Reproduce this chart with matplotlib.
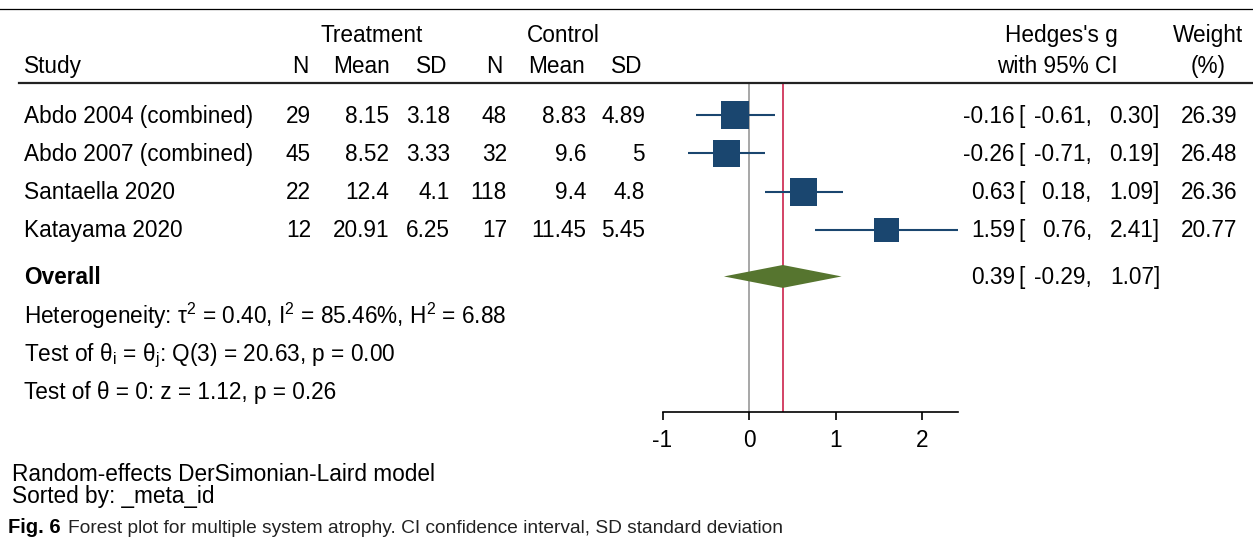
import matplotlib
matplotlib.use("Agg")
import matplotlib.pyplot as plt
import matplotlib.transforms as mtransforms
from matplotlib.lines import Line2D
from matplotlib.patches import Polygon

plt.rcParams["font.family"] = ["Liberation Sans", "DejaVu Sans"]
plt.rcParams["mathtext.fontset"] = "custom"
plt.rcParams["mathtext.rm"] = "Liberation Sans"

# study-level data
studies = ["Abdo 2004 (combined)", "Abdo 2007 (combined)", "Santaella 2020", "Katayama 2020"]
trt_n = ["29", "45", "22", "12"]
trt_mean = ["8.15", "8.52", "12.4", "20.91"]
trt_sd = ["3.18", "3.33", "4.1", "6.25"]
ctl_n = ["48", "32", "118", "17"]
ctl_mean = ["8.83", "9.6", "9.4", "11.45"]
ctl_sd = ["4.89", "5", "4.8", "5.45"]
effect = [-0.16, -0.26, 0.63, 1.59]
ci_lo = [-0.61, -0.71, 0.18, 0.76]
ci_hi = [0.30, 0.19, 1.09, 2.41]
weight = [26.39, 26.48, 26.36, 20.77]

# pooled estimate
overall_es = 0.39
overall_lo = -0.29
overall_hi = 1.07

stats_lines = [
    r"Heterogeneity: τ$^\mathregular{2}$ = 0.40, I$^\mathregular{2}$ = 85.46%, H$^\mathregular{2}$ = 6.88",
    r"Test of θ$_\mathregular{i}$ = θ$_\mathregular{j}$: Q(3) = 20.63, p = 0.00",
    "Test of θ = 0: z = 1.12, p = 0.26",
]
ticks = [-1, 0, 1, 2]

W, H = 1253, 543
FS = 16.3
BLUE = "#1a466f"
GREEN = "#56752f"
RED = "#c8103c"

fig = plt.figure(figsize=(W / 100, H / 100), dpi=100)
px = mtransforms.Affine2D().scale(1 / W, -1 / H).translate(0, 1) + fig.transFigure

# forest panel
ax = fig.add_axes([662.5 / W, 1 - 412 / H, 295 / W, 328 / H])
ax.set_xlim(-1, max(ci_hi))
ax.set_ylim(8.77, 0.18)
rows = list(range(1, len(studies) + 1))
overall_row = 5.22
stat_rows = [6.25, 7.25, 8.24]

ax.axvline(0, color="#a0a0a0", lw=1.3, zorder=1)
ax.axvline(overall_es, color=RED, lw=1.1, zorder=1)
ax.hlines(rows, ci_lo, ci_hi, color=BLUE, lw=1.5, zorder=2)
ax.scatter(effect, rows, s=[w * 15.2 for w in weight], marker="s",
           color=BLUE, linewidths=0, zorder=3)
half_h = 0.30
ax.add_patch(Polygon(
    [(overall_lo, overall_row), (overall_es, overall_row - half_h),
     (overall_hi, overall_row), (overall_es, overall_row + half_h)],
    closed=True, facecolor=GREEN, edgecolor="none", zorder=3))

for side in ["left", "right", "top"]:
    ax.spines[side].set_visible(False)
ax.spines["bottom"].set_linewidth(1.2)
ax.set_xticks(ticks)
ax.set_xticklabels([f"{t:d}" for t in ticks])
ax.tick_params(axis="x", direction="out", length=6, width=1.2, pad=6, labelsize=FS)
ax.tick_params(axis="y", left=False, labelleft=False)

# text columns: x in image pixels, y in row units of the forest panel
tr = mtransforms.blended_transform_factory(px, ax.transData)
BASE = 0.2


def put(x, row, s, ha="right", **kw):
    ax.text(x, row + BASE, s, transform=tr, ha=ha, va="baseline",
            fontsize=kw.pop("fontsize", FS), **kw)


# header
put(372, -1.115, "Treatment", ha="center")
put(563, -1.115, "Control", ha="center")
put(1118, -1.115, "Hedges's g")
put(1208, -1.115, "Weight", ha="center")
put(24, -0.317, "Study", ha="left")
for x, s in [(308, "N"), (390, "Mean"), (447, "SD"), (503, "N"), (585, "Mean"), (642, "SD")]:
    put(x, -0.317, s)
put(1118, -0.317, "with 95% CI")
put(1208, -0.317, "(%)", ha="center")

cols = [(311, trt_n), (389, trt_mean), (450, trt_sd),
        (507, ctl_n), (586, ctl_mean), (645, ctl_sd)]
for i, r in enumerate(rows):
    put(24, r, studies[i], ha="left")
    for x, vals in cols:
        put(x, r, vals[i])
    put(1015, r, f"{effect[i]:.2f}")
    put(1018, r, "[", ha="left")
    put(1092, r, f"{ci_lo[i]:.2f},")
    put(1160, r, f"{ci_hi[i]:.2f}]")
    put(1237, r, f"{weight[i]:.2f}")

put(24, overall_row, "Overall", ha="left", fontweight="bold")
put(1015, overall_row, f"{overall_es:.2f}")
put(1018, overall_row, "[", ha="left")
put(1092, overall_row, f"{overall_lo:.2f},")
put(1160, overall_row, f"{overall_hi:.2f}]")

for r, s in zip(stat_rows, stats_lines):
    put(24, r, s, ha="left")

# table rules
fig.add_artist(Line2D([0, W], [9, 9], transform=px, color="black", lw=0.9))
fig.add_artist(Line2D([19, W], [83, 83], transform=px, color="#222222", lw=1.6))

# notes and caption
fig.text(12, 481, "Random-effects DerSimonian-Laird model", transform=px,
         fontsize=FS, va="baseline")
fig.text(12, 503, "Sorted by: _meta_id", transform=px, fontsize=FS, va="baseline")
cap_font = ["Liberation Sans Narrow", "Liberation Sans", "DejaVu Sans"]
fig.text(8, 533, "Fig. 6", transform=px, fontsize=14.5, va="baseline",
         fontweight="bold", family=cap_font)
fig.text(68, 533, "Forest plot for multiple system atrophy. CI confidence interval, "
         "SD standard deviation", transform=px, fontsize=13.8, va="baseline",
         family=cap_font, color="#222222")

fig.savefig("out.png", dpi=100)
